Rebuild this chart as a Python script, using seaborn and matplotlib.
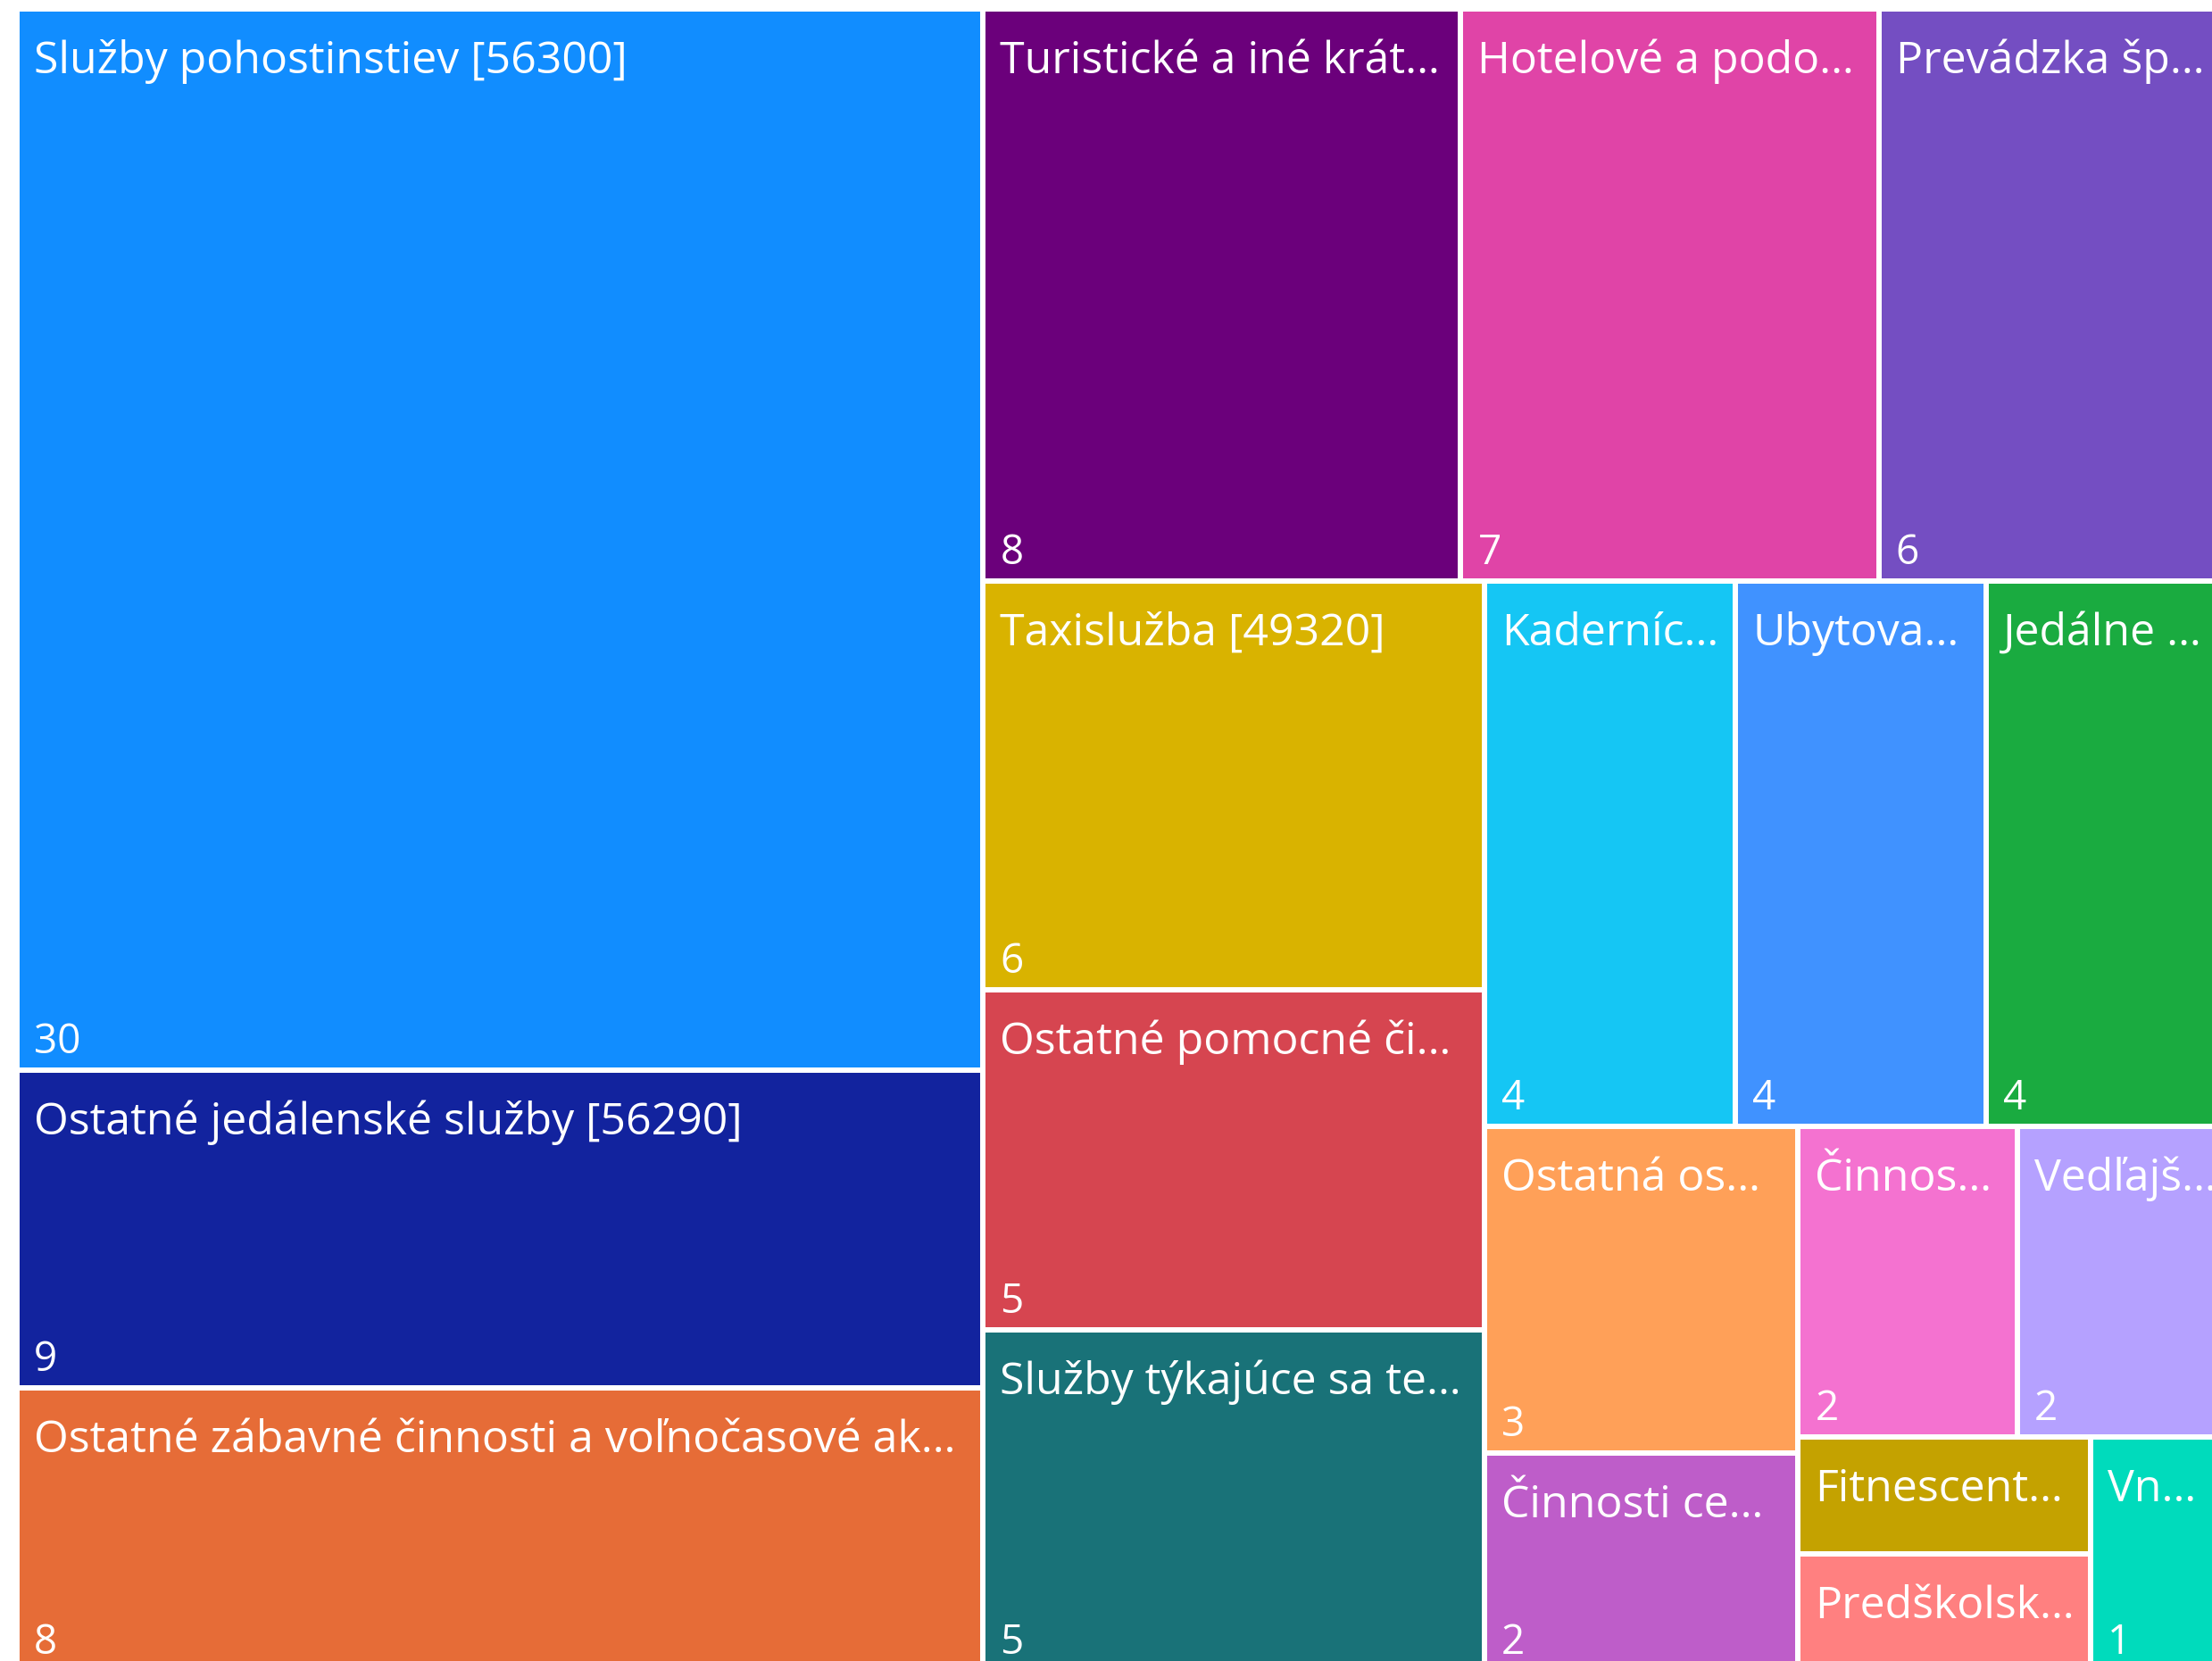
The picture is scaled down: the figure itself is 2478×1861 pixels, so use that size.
import matplotlib
matplotlib.use("Agg")
import matplotlib.pyplot as plt
from matplotlib.patches import Rectangle
import seaborn as sns

# ---- data (layout order) ----
labels = [
    "Služby pohostinstiev [56300]",
    "Ostatné jedálenské služby [56290]",
    "Ostatné zábavné činnosti a voľnočasové ak…",
    "Turistické a iné krát…",
    "Hotelové a podo…",
    "Prevádzka šp…",
    "Taxislužba [49320]",
    "Ostatné pomocné či…",
    "Služby týkajúce sa te…",
    "Kaderníc…",
    "Ubytova…",
    "Jedálne …",
    "Ostatná os…",
    "Činnosti ce…",
    "Činnos…",
    "Vedľajš…",
    "Fitnescent…",
    "Predškolsk…",
    "Vn…",
]
values = [30, 9, 8, 8, 7, 6, 6, 5, 5, 4, 4, 4, 3, 2, 2, 2, 1, 1, 1]
colors = [
    "#118DFF", "#12239E", "#E66C37", "#6B007B", "#E044A7", "#744EC2",
    "#D9B300", "#D64550", "#197278", "#15C6F4", "#4092FF", "#1AAB40",
    "#FFA058", "#BE5DC9", "#F472D0", "#B5A1FF", "#C4A200", "#FF8080",
    "#00DBBC",
]

PHI = (1 + 5 ** 0.5) / 2


def squarify(vals, x0, y0, x1, y1, ratio=PHI):
    n = len(vals)
    rects = [None] * n
    i0 = i1 = 0
    value = float(sum(vals))
    while i0 < n:
        dx, dy = x1 - x0, y1 - y0
        sumv = vals[i1]
        i1 += 1
        minv = maxv = sumv
        alpha = max(dy / dx, dx / dy) / (value * ratio)
        beta = sumv * sumv * alpha
        minratio = max(maxv / beta, beta / minv)
        while i1 < n:
            nv = vals[i1]
            s = sumv + nv
            mn, mx = min(minv, nv), max(maxv, nv)
            beta = s * s * alpha
            nr = max(mx / beta, beta / mn)
            if nr > minratio:
                break
            sumv, minv, maxv, minratio = s, mn, mx, nr
            i1 += 1
        if dx < dy:
            h = dy * sumv / value
            xx = x0
            for k in range(i0, i1):
                w = dx * vals[k] / sumv
                rects[k] = (xx, y0, w, h)
                xx += w
            y0 += h
        else:
            w = dx * sumv / value
            yy = y0
            for k in range(i0, i1):
                h = dy * vals[k] / sumv
                rects[k] = (x0, yy, w, h)
                yy += h
            x0 += w
        value -= sumv
        i0 = i1
    return rects


sns.set_theme(style="white")
plt.rcParams["font.family"] = ["Open Sans", "DejaVu Sans"]

W, H = 2478, 1861
fig = plt.figure(figsize=(W / 100, H / 100), dpi=100)
ax = fig.add_axes([0, 0, 1, 1])
ax.set_xlim(0, W)
ax.set_ylim(H, 0)
ax.axis("off")

palette = sns.color_palette(colors)
rects = squarify(values, 19, 10, 2506, 1872)
for (x, y, w, h), lab, v, c in zip(rects, labels, values, palette):
    ax.add_patch(Rectangle((x, y), w, h, facecolor=c, edgecolor="white", linewidth=4.3))
    ax.text(x + 19, y + 72, lab, color="white", fontsize=36, va="baseline", ha="left")
    if h > 180:
        ax.text(x + 19, y + h - 19, str(v), color="white", fontsize=33,
                va="baseline", ha="left")

fig.savefig("out.png", dpi=100)
